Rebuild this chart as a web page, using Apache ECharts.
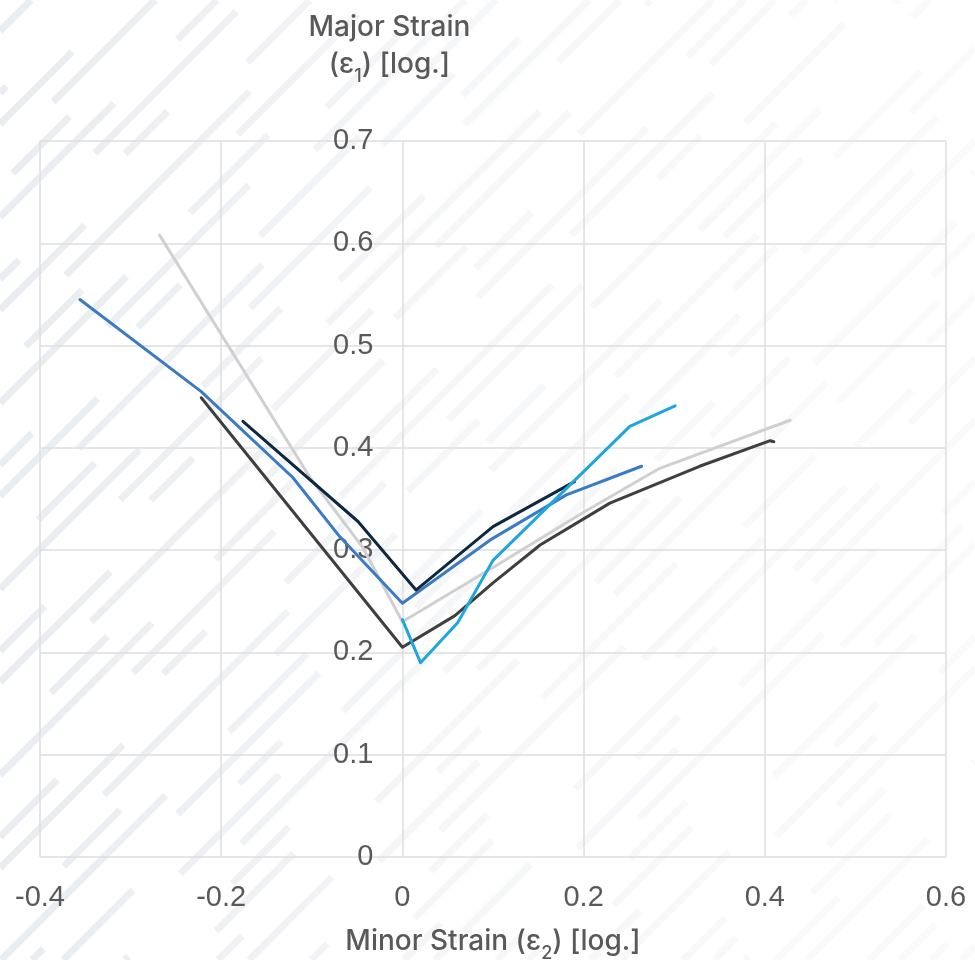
<!DOCTYPE html>
<html>
<head>
<meta charset="utf-8">
<script src="https://cdn.jsdelivr.net/npm/echarts@6/dist/echarts.min.js"></script>
<style>
  html, body { margin: 0; padding: 0; background: #ffffff; }
  #chart { width: 975px; height: 960px; }
</style>
</head>
<body>
<div id="chart"></div>
<script>
// Axis ticks
const xTicks = [-0.4, -0.2, 0, 0.2, 0.4, 0.6];
const yTicks = [0, 0.1, 0.2, 0.3, 0.4, 0.5, 0.6, 0.7];

// Forming limit curves: minor strain (x) vs major strain (y)
const lightGrayX = [-0.268, -0.102, -0.044, 0.000, 0.100, 0.200, 0.284, 0.428];
const lightGrayY = [0.608, 0.371, 0.303, 0.230, 0.283, 0.337, 0.380, 0.427];

const blueX = [-0.356, -0.222, -0.121, -0.069, 0.000, 0.097, 0.181, 0.264];
const blueY = [0.545, 0.455, 0.371, 0.313, 0.248, 0.310, 0.354, 0.382];

const navyX = [-0.176, -0.049, 0.015, 0.100, 0.190];
const navyY = [0.426, 0.328, 0.261, 0.323, 0.367];

const darkGrayX = [-0.222, 0.000, 0.058, 0.100, 0.152, 0.229, 0.328, 0.406, 0.410];
const darkGrayY = [0.449, 0.205, 0.236, 0.268, 0.305, 0.346, 0.382, 0.407, 0.406];

const cyanX = [0.000, 0.020, 0.061, 0.100, 0.251, 0.301];
const cyanY = [0.232, 0.190, 0.229, 0.290, 0.421, 0.441];

const pairs = (xs, ys) => xs.map((x, i) => [x, ys[i]]);

const curves = [
  { name: 'Light grey', color: '#d0d0d0', data: pairs(lightGrayX, lightGrayY) },
  { name: 'Blue', color: '#3a7bc3', data: pairs(blueX, blueY) },
  { name: 'Navy', color: '#0e2841', data: pairs(navyX, navyY) },
  { name: 'Dark grey', color: '#3f3f3f', data: pairs(darkGrayX, darkGrayY) },
  { name: 'Cyan', color: '#1ea7de', data: pairs(cyanX, cyanY) }
];

// Layout of the plotting area
const W = 975, H = 960;
const gridLeft = 40, gridRight = 29, gridTop = 141, gridBottom = 103;
const plotWidth = W - gridLeft - gridRight;
const xMin = xTicks[0], xMax = xTicks[xTicks.length - 1];
// shift the value axis so that it sits on x = 0
const yAxisShift = -((0 - xMin) / (xMax - xMin)) * plotWidth;

// Background diagonal stripe texture, fading towards the right
const stripeFill = new echarts.graphic.LinearGradient(0, 0, W, 0, [
  { offset: 0, color: '#e9ecf0' },
  { offset: 0.25, color: '#eff1f4' },
  { offset: 0.45, color: '#f5f6f8' },
  { offset: 1, color: '#fafafa' }
], true);
const dashSets = [
  [170, 130, 80, 220], [240, 90, 110, 260], [120, 190, 200, 110],
  [300, 150, 60, 190], [190, 230, 140, 90], [100, 160, 260, 170]
];
const stripes = [];
for (let i = 0; i < 64; i++) {
  const c = i * 31;
  const x1 = Math.max(0, c - H), y1 = c - x1;
  const x2 = Math.min(W, c), y2 = c - x2;
  if (x2 <= x1) continue;
  stripes.push({
    type: 'line',
    silent: true,
    shape: { x1: x1, y1: y1, x2: x2, y2: y2 },
    style: {
      stroke: stripeFill,
      lineWidth: 7,
      lineDash: dashSets[i % dashSets.length],
      lineDashOffset: (i * 97) % 300
    }
  });
}

const textColor = '#595959';
const titleFont = 'Inter, "DejaVu Sans", sans-serif';
const tickFont = '"Liberation Sans", Arial, sans-serif';
// subscript: smaller glyphs pushed down by top padding
const subStyle = {
  fontSize: 18, lineHeight: 10, padding: [24, 0, 0, 0], verticalAlign: 'middle',
  color: textColor, fontFamily: titleFont, fontWeight: 500
};

const chart = echarts.init(document.getElementById('chart'), null, { renderer: 'canvas' });

chart.setOption({
  backgroundColor: '#ffffff',
  animation: false,
  graphic: { z: -10, elements: stripes },
  grid: {
    left: gridLeft, right: gridRight, top: gridTop, bottom: gridBottom,
    containLabel: false, outerBoundsMode: 'none'
  },
  xAxis: {
    type: 'value',
    min: xMin,
    max: xMax,
    interval: 0.2,
    name: 'Minor Strain (ε{sub|2}) [log.]',
    nameLocation: 'middle',
    nameGap: 66,
    nameTextStyle: {
      color: textColor,
      fontFamily: titleFont,
      fontWeight: 500,
      fontSize: 28,
      lineHeight: 38,
      rich: { sub: subStyle }
    },
    axisLine: { show: false, onZero: false },
    axisTick: { show: false },
    axisLabel: { color: textColor, fontFamily: tickFont, fontSize: 29, margin: 26 },
    splitLine: { show: true, lineStyle: { color: '#dedede', width: 1.5 } }
  },
  yAxis: {
    type: 'value',
    position: 'left',
    offset: yAxisShift,
    min: yTicks[0],
    max: yTicks[yTicks.length - 1],
    interval: 0.1,
    name: 'Major Strain\n(ε{sub|1}) [log.]',
    nameLocation: 'end',
    nameGap: 58,
    nameTextStyle: {
      color: textColor,
      fontFamily: titleFont,
      fontWeight: 500,
      fontSize: 28,
      lineHeight: 37,
      align: 'center',
      padding: [0, 26, 0, 0],
      rich: { sub: subStyle }
    },
    axisLine: { show: false, onZero: false },
    axisTick: { show: false },
    axisLabel: { color: textColor, fontFamily: tickFont, fontSize: 29, margin: 29 },
    splitLine: { show: true, lineStyle: { color: '#dedede', width: 1.5 } }
  },
  series: curves.map(c => ({
    type: 'line',
    name: c.name,
    data: c.data,
    showSymbol: false,
    symbol: 'none',
    smooth: false,
    lineStyle: { color: c.color, width: 3, cap: 'round', join: 'round' },
    itemStyle: { color: c.color },
    emphasis: { disabled: true }
  }))
});
</script>
</body>
</html>
